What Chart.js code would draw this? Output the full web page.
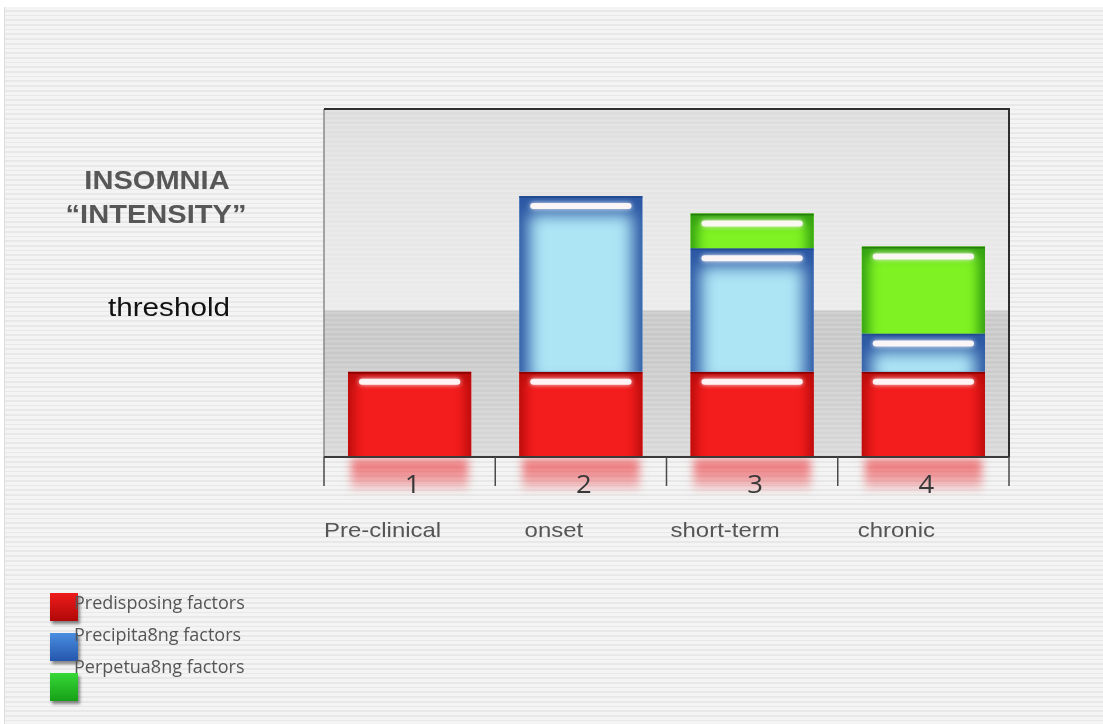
<!DOCTYPE html>
<html>
<head>
<meta charset="utf-8">
<script src="https://cdn.jsdelivr.net/npm/chart.js@4"></script>
<style>
  html, body { margin: 0; padding: 0; background: #ffffff; width: 1103px; height: 724px; overflow: hidden; }
  .bg { position: absolute; left: 4px; top: 7px; right: 0; bottom: 0;
        border-left: 1px solid #dcdcdc;
        background: repeating-linear-gradient(to bottom, #f4f4f4 0px, #f4f4f4 3px, #e8e8e8 3px, #e8e8e8 4.7px); }
  canvas { position: absolute; left: 0; top: 0; }
</style>
</head>
<body>
<div class="bg"></div>
<canvas id="c" width="1103" height="724"></canvas>
<script>
// ---- data ----
const categories = ['1', '2', '3', '4'];
const stageLabels = ['Pre-clinical', 'onset', 'short-term', 'chronic'];
const predisposing = [2.45, 2.45, 2.45, 2.45];
const precipitating = [0, 5.05, 3.55, 1.1];
const perpetuating = [0, 0, 1.0, 2.5];
const seriesNames = ['Predisposing factors', 'Precipita8ng factors', 'Perpetua8ng factors'];
const thresholdValue = 4.2;
const yMax = 10;
const titleLines = ['INSOMNIA', '\u201CINTENSITY\u201D'];
const thresholdLabel = 'threshold';

const STRETCH = 1.14;
function txt(ctx, s, x, y, font, color, align, sx) {
  ctx.save();
  ctx.font = font; ctx.fillStyle = color; ctx.textAlign = align || 'center';
  ctx.textBaseline = 'alphabetic';
  ctx.translate(x, y); ctx.scale(sx || STRETCH, 1);
  ctx.fillText(s, 0, 0);
  ctx.restore();
}
function rrect(ctx, x, y, w, h, r) {
  ctx.beginPath();
  ctx.moveTo(x + r, y); ctx.lineTo(x + w - r, y); ctx.arcTo(x + w, y, x + w, y + r, r);
  ctx.lineTo(x + w, y + h - r); ctx.arcTo(x + w, y + h, x + w - r, y + h, r);
  ctx.lineTo(x + r, y + h); ctx.arcTo(x, y + h, x, y + h - r, r);
  ctx.lineTo(x, y + r); ctx.arcTo(x, y, x + r, y, r); ctx.closePath();
}

const styles = [
  { edge: '#b80b0b', inner: '#f41d1d', top: '#8e0000', inset: [6, 8], blur: 6 },
  { edge: '#2c58a4', inner: '#ade5f5', top: '#244a90', inset: [10, 18], blur: 8 },
  { edge: '#34a012', inner: '#7ef222', top: '#25800a', inset: [7, 9], blur: 6 }
];

function drawSegment(ctx, x0, x1, top, bot, st) {
  const w = x1 - x0, h = bot - top;
  ctx.save();
  ctx.beginPath(); ctx.rect(x0, top, w, h); ctx.clip();
  ctx.fillStyle = st.edge; ctx.fillRect(x0, top, w, h);
  ctx.filter = 'blur(' + st.blur + 'px)';
  ctx.fillStyle = st.inner;
  ctx.fillRect(x0 + st.inset[0], top + st.inset[1], w - 2 * st.inset[0], h - st.inset[1] + 12);
  ctx.filter = 'none';
  ctx.fillStyle = st.top; ctx.fillRect(x0, top, w, 2);
  ctx.restore();
  // highlight pill
  ctx.save();
  ctx.shadowColor = 'rgba(255,255,255,0.9)'; ctx.shadowBlur = 5;
  ctx.fillStyle = 'rgba(255,248,248,0.95)';
  rrect(ctx, x0 + 11, top + 7, w - 22, 6, 3); ctx.fill();
  ctx.restore();
}

const plotBgPlugin = {
  id: 'plotBg',
  beforeDraw(chart) {
    const { ctx, chartArea: a, scales } = chart;
    const ty = scales.y.getPixelForValue(thresholdValue);
    const t = (ty - a.top) / (a.bottom - a.top);
    const g = ctx.createLinearGradient(0, a.top, 0, a.bottom);
    g.addColorStop(0, '#dcdcdc');
    g.addColorStop(0.15, '#e3e3e3');
    g.addColorStop(t - 0.002, '#ebebeb');
    g.addColorStop(t, '#c9c9c9');
    g.addColorStop(Math.min(1, t + 0.1), '#c8c8c8');
    g.addColorStop(1, '#d8d8d8');
    ctx.save();
    ctx.fillStyle = g; ctx.fillRect(a.left, a.top, a.right - a.left, a.bottom - a.top);
    ctx.fillStyle = 'rgba(255,255,255,0.18)';
    for (let y = a.top + 1; y < a.bottom; y += 4.7) ctx.fillRect(a.left, y, a.right - a.left, 2);
    ctx.restore();
  }
};

const glossPlugin = {
  id: 'gloss',
  afterDatasetsDraw(chart) {
    const ctx = chart.ctx;
    // reflection under the red bars
    const m0 = chart.getDatasetMeta(0);
    m0.data.forEach(el => {
      const x0 = el.x - el.width / 2, w = el.width;
      ctx.save();
      ctx.filter = 'blur(4px)';
      const g = ctx.createLinearGradient(0, el.base, 0, el.base + 34);
      g.addColorStop(0, 'rgba(235,60,65,0.75)');
      g.addColorStop(0.6, 'rgba(235,70,75,0.5)');
      g.addColorStop(1, 'rgba(235,80,85,0.15)');
      ctx.fillStyle = g;
      ctx.fillRect(x0 + 3, el.base + 2, w - 6, 31);
      ctx.restore();
    });
    chart.data.datasets.forEach((ds, di) => {
      const meta = chart.getDatasetMeta(di);
      meta.data.forEach(el => {
        const top = Math.min(el.y, el.base), bot = Math.max(el.y, el.base);
        if (bot - top < 1) return;
        drawSegment(ctx, el.x - el.width / 2, el.x + el.width / 2, top, bot, styles[di]);
      });
    });
  },
  afterDraw(chart) {
    const { ctx, chartArea: a, scales } = chart;
    const xs = scales.x;
    ctx.save();
    // frame
    ctx.strokeStyle = '#8a8a8a'; ctx.lineWidth = 1.5;
    ctx.beginPath(); ctx.moveTo(a.left, a.top); ctx.lineTo(a.left, a.bottom); ctx.stroke();
    ctx.strokeStyle = '#2e2e2e'; ctx.lineWidth = 2;
    ctx.beginPath(); ctx.moveTo(a.left, a.top); ctx.lineTo(a.right, a.top); ctx.lineTo(a.right, a.bottom); ctx.stroke();
    ctx.strokeStyle = '#3a3a3a'; ctx.lineWidth = 2;
    ctx.beginPath(); ctx.moveTo(a.left, a.bottom); ctx.lineTo(a.right, a.bottom); ctx.stroke();
    // ticks at category boundaries
    const n = categories.length;
    const cw = (a.right - a.left) / n;
    ctx.strokeStyle = '#4a4a4a'; ctx.lineWidth = 1.5;
    for (let i = 0; i <= n; i++) {
      const x = i < n ? xs.getPixelForValue(i) - cw / 2 : xs.getPixelForValue(n - 1) + cw / 2;
      ctx.beginPath(); ctx.moveTo(x, a.bottom); ctx.lineTo(x, a.bottom + 29); ctx.stroke();
    }
    ctx.restore();
    // numerals and stage labels
    categories.forEach((c, i) => {
      const x = xs.getPixelForValue(i) + 3;
      txt(ctx, c, x, a.bottom + 36, '25px "Open Sans"', '#383838', 'center', 1.1);
      txt(ctx, stageLabels[i], x - 30, a.bottom + 80, '21px "Liberation Sans"', '#555555', 'center');
    });
    // left titles
    txt(ctx, titleLines[0], 157, 189, 'bold 25.5px "Liberation Sans"', '#575757', 'center');
    txt(ctx, titleLines[1], 156, 223, 'bold 25.5px "Liberation Sans"', '#575757', 'center');
    const ty = scales.y.getPixelForValue(thresholdValue);
    txt(ctx, thresholdLabel, 169, ty + 5, '26px "Liberation Sans"', '#111111', 'center');
    // legend
    const legendCols = [['#ef1b1b', '#b00808'], ['#4a8ee0', '#2456ad'], ['#36d836', '#17a017']];
    chart.data.datasets.forEach((ds, i) => {
      const y = 593 + i * 40;
      ctx.save();
      ctx.shadowColor = 'rgba(0,0,0,0.45)'; ctx.shadowBlur = 3; ctx.shadowOffsetX = 2; ctx.shadowOffsetY = 3;
      const g = ctx.createLinearGradient(0, y, 0, y + 28);
      g.addColorStop(0, legendCols[i][0]); g.addColorStop(1, legendCols[i][1]);
      ctx.fillStyle = g; ctx.fillRect(50, y, 28, 28);
      ctx.restore();
      txt(ctx, ds.label, 74, 609 + i * 32, '18px "Open Sans"', '#555555', 'left', 1.0);
    });
  }
};

new Chart(document.getElementById('c'), {
  type: 'bar',
  data: {
    labels: categories,
    datasets: [
      { label: seriesNames[0], data: predisposing, backgroundColor: '#ee1a1a' },
      { label: seriesNames[1], data: precipitating, backgroundColor: '#6fa0d8' },
      { label: seriesNames[2], data: perpetuating, backgroundColor: '#6ee21e' }
    ]
  },
  options: {
    responsive: false,
    animation: false,
    layout: { padding: { left: 324, top: 109, right: 94, bottom: 267 } },
    datasets: { bar: { barPercentage: 0.72, categoryPercentage: 1.0 } },
    plugins: { legend: { display: false }, tooltip: { enabled: false } },
    scales: {
      x: { stacked: true, display: false },
      y: { stacked: true, display: false, min: 0, max: yMax }
    }
  },
  plugins: [plotBgPlugin, glossPlugin]
});
</script>
</body>
</html>
